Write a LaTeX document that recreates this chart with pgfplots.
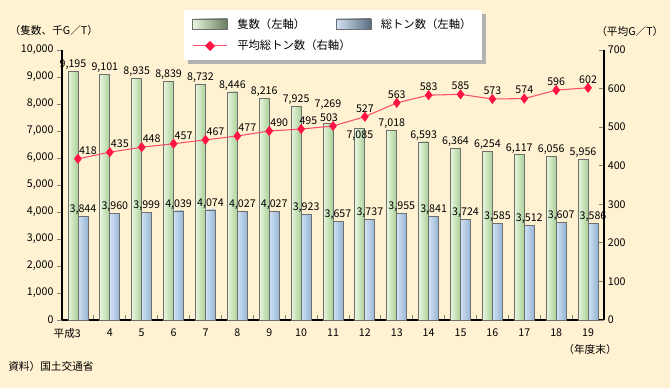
\documentclass[border=0pt]{standalone}
\usepackage{fontspec}
\setmainfont{Noto Sans CJK JP}
\usepackage{pgfplots}
\usepackage{pgfplotstable}
\pgfplotsset{compat=1.18}
\pgfdeclarelayer{bgzero}
\pgfdeclarelayer{bgone}
\pgfsetlayers{bgzero,bgone,main}
\definecolor{bg}{RGB}{255,242,210}
\definecolor{gL}{RGB}{232,246,222}
\definecolor{gR}{RGB}{170,208,152}
\definecolor{bL}{RGB}{208,226,243}
\definecolor{bR}{RGB}{150,180,212}
\definecolor{lineC}{RGB}{250,80,110}
\definecolor{markC}{RGB}{255,20,70}
\definecolor{edge}{RGB}{110,110,110}
\pgfplotstableread{
x ships ton avg sy ax
0 9195 3844 418 0 7.5
1 9101 3960 435 0 7.5
2 8935 3999 448 0 7.5
3 8839 4039 457 0 7.5
4 8732 4074 467 0 7.5
5 8446 4027 477 0 7.5
6 8216 4027 490 0 7.5
7 7925 3923 495 0 5.5
8 7269 3657 503 9 -3
9 7085 3737 527 -10.5 0
10 7018 3955 563 0 0
11 6593 3841 583 0 0
12 6364 3724 585 0 0
13 6254 3585 573 0 0
14 6117 3512 574 0 0
15 6056 3607 596 0 0
16 5956 3586 602 0 0
}\data
\begin{document}
\fontsize{8pt}{10pt}\selectfont
\begin{tikzpicture}
\begin{pgfonlayer}{bgzero}
\fill[bg] (0,0) rectangle (502.5pt,291pt);
\end{pgfonlayer}
\begin{axis}[
  at={(46.5pt,51pt)}, anchor=south west, scale only axis,
  width=406.5pt, height=202.5pt,
  xmin=-0.5, xmax=16.5, ymin=0, ymax=10000,
  axis lines*=left,
  axis line style={line width=0.8pt},
  tick align=outside,
  xtick={0,...,16},
  xticklabels={\llap{平成}3,4,5,6,7,8,9,10,11,12,13,14,15,16,17,18,19},
  major x tick style={draw=none},
  minor xtick={0.5,1.5,...,15.5},
  minor tick length=3.5pt,
  minor x tick style={yshift=3.5pt, line width=0.6pt},
  ytick={0,1000,...,10000},
  major tick length=3.5pt,
  major y tick style={line width=0.6pt},
  y tick label style={/pgf/number format/1000 sep={,}},
  /pgf/number format/assume math mode=true,
  tick label style={font=\fontsize{8pt}{10pt}\selectfont},
  scaled y ticks=false,
  ybar, bar width=7.5pt,
  nodes near coords={\pgfmathprintnumber[1000 sep={,}]{\pgfplotspointmeta}},
  nodes near coords style={font=\fontsize{8pt}{10pt}\selectfont, inner sep=1pt},
  clip=false,
]
\pgfplotsinvokeforeach{0,...,16}{
\addplot[bar shift=-3.75pt, draw=edge, line width=0.6pt, left color=gL, right color=gR,
  restrict x to domain=#1:#1,
  visualization depends on={\thisrow{sy} \as \shiftY},
  every node near coord/.append style={yshift=\shiftY pt}]
  table[x=x, y=ships] {\data};
\addplot[bar shift=3.75pt, draw=edge, line width=0.6pt, left color=bL, right color=bR,
  restrict x to domain=#1:#1]
  table[x=x, y=ton] {\data};
}
\end{axis}
\begin{axis}[
  at={(46.5pt,51pt)}, anchor=south west, scale only axis,
  width=406.5pt, height=202.5pt,
  xmin=-0.5, xmax=16.5, ymin=0, ymax=700,
  axis y line*=right, axis x line=none,
  axis line style={line width=0.8pt},
  ytick={0,100,...,700},
  tick align=inside, major tick length=3.5pt,
  major y tick style={line width=0.6pt},
  /pgf/number format/assume math mode=true,
  tick label style={font=\fontsize{8pt}{10pt}\selectfont},
  clip=false,
  legend columns=2,
  legend cell align=left,
  legend style={at={(0.225,1.148)}, anchor=north west, draw=none, fill=white,
    name=leg,
    font=\fontsize{8.5pt}{10pt}\selectfont,
    inner xsep=6pt, inner ysep=4pt, row sep=4pt,
    /tikz/every even column/.append style={column sep=21pt}},
]
\addlegendimage{legend image code/.code={\draw[draw=edge, line width=0.6pt, left color=gL, right color=black!40!gR] (0pt,-3.75pt) rectangle (26pt,3.75pt);}}
\addlegendentry{\hspace{5pt}隻数（左軸）}
\addlegendimage{legend image code/.code={\draw[draw=edge, line width=0.6pt, left color=bL, right color=black!40!bR] (0pt,-3.75pt) rectangle (26pt,3.75pt);}}
\addlegendentry{\hspace{5pt}総トン数（左軸）}
\addplot[color=lineC, line width=0.8pt, mark=diamond*, mark size=3.2pt,
  mark options={draw=markC, fill=markC},
  nodes near coords={\pgfmathprintnumber{\pgfplotspointmeta}},
  nodes near coords style={font=\fontsize{8pt}{10pt}\selectfont, inner sep=1pt, text=black, yshift=2pt},
  visualization depends on={\thisrow{ax} \as \shiftX},
  every node near coord/.append style={xshift=\shiftX pt},
  legend image code/.code={\draw[lineC, line width=0.8pt] (0pt,0pt) -- (26pt,0pt); \fill[markC] (13pt,3.2pt) -- (16.2pt,0pt) -- (13pt,-3.2pt) -- (9.8pt,0pt) -- cycle;}]
  table[x=x, y=avg] {\data};
\addlegendentry{\hspace{5pt}\rlap{平均総トン数（右軸）}}
\end{axis}
\begin{pgfonlayer}{bgone}
\fill[black!30] ([shift={(3pt,-3pt)}]leg.south west) rectangle ([shift={(3pt,-3pt)}]leg.north east);
\end{pgfonlayer}
\node[anchor=west, inner sep=0pt] at (7pt,268.5pt) {（隻数、千G／T）};
\node[anchor=west, inner sep=0pt] at (447pt,267.5pt) {（平均G／T）};
\node[anchor=center, inner sep=0pt] at (442.5pt,29.25pt) {（年度末）};
\node[anchor=west, inner sep=0pt] at (6pt,16.5pt) {資料）国土交通省};
\end{tikzpicture}
\end{document}
